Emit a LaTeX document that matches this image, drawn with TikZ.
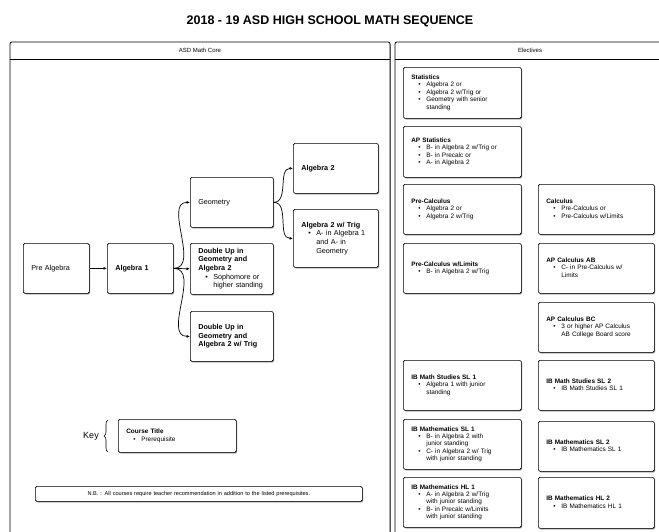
\documentclass[tikz,border=0pt]{standalone}
\usepackage{fontspec}
\setmainfont{Liberation Sans}
\usetikzlibrary{arrows.meta,shadows,decorations.pathreplacing}
\newcommand\ttl[1]{\multicolumn{2}{@{}l@{}}{\textbf{#1}}\\}
\newcommand\bi[1]{\hspace*{7pt}\textbullet & #1\\}
\newcommand\ci[1]{ & #1\\}
\newenvironment{blist}{\begin{tabular}{@{}p{15pt}@{}l@{}}}{\end{tabular}}
\tikzset{
  shad/.style={drop shadow={shadow xshift=0.8pt,shadow yshift=-0.9pt,fill=black!55,opacity=1}},
  panel/.style={draw, line width=0.8pt, rounded corners=2pt, fill=white, shad},
  cbox/.style={draw, line width=0.7pt, rounded corners=1.5pt, fill=white, shad,
    anchor=north west, align=left, inner ysep=2pt},
  lbox/.style={cbox, inner xsep=8pt, font=\fontsize{7.2}{8.7}\selectfont},
  rbox/.style={cbox, inner xsep=8pt, font=\fontsize{6.4}{7.4}\selectfont},
  arr/.style={line width=0.7pt, -{Latex[length=3.5pt,width=3pt]}},
  hdr/.style={font=\fontsize{6}{7}\selectfont}
}
\begin{document}
\begin{tikzpicture}[x=1pt,y=-1pt]
\useasboundingbox[fill=white] (0,0) rectangle (659,531);
% title
\node[font=\bfseries\fontsize{12.5}{14}\selectfont] (title) at (330,21) {2018 - 19 ASD HIGH SCHOOL MATH SEQUENCE};
% panels
\path[panel] (10,545) -- (10,42) -- (390,42) -- (390,545);
\draw[line width=0.8pt] (10,59) -- (390,59);
\node[hdr] (hcore) at (200,50.5) {ASD Math Core};
\path[panel] (395,545) -- (395,42) -- (670,42) -- (670,545);
\draw[line width=0.8pt] (395,59) -- (670,59);
\node[hdr] (helec) at (530,50.5) {Electives};
% left panel boxes
\node[lbox, text width=50pt, minimum height=50pt] (pre) at (23,243) {Pre Algebra};
\node[lbox, text width=50pt, minimum height=50pt] (alg1) at (107,243) {\textbf{Algebra 1}};
\node[lbox, text width=67pt, minimum height=50pt] (geo) at (190,177) {Geometry};
\node[lbox, text width=67pt, minimum height=51pt] (dbl) at (190,243) {\begin{blist}\ttl{Double Up in}\ttl{Geometry and}\ttl{Algebra 2}\bi{Sophomore or}\ci{higher standing}\end{blist}};
\node[lbox, text width=67pt, minimum height=50pt] (dblt) at (190,311) {\textbf{Double Up in}\par\textbf{Geometry and}\par\textbf{Algebra 2 w/ Trig}};
\node[lbox, text width=69pt, minimum height=50pt] (alg2) at (293,143) {\textbf{Algebra 2}};
\node[lbox, text width=69pt, minimum height=58pt] (alg2t) at (293,209) {\begin{blist}\ttl{Algebra 2 w/ Trig}\bi{A- in Algebra 1}\ci{and A- in}\ci{Geometry}\end{blist}};
% connectors
\draw[arr] (pre.east) -- (alg1.west);
\draw[arr] (alg1.east) to[out=0,in=180] (geo.west);
\draw[arr] (alg1.east) -- (dbl.west);
\draw[arr] (alg1.east) to[out=0,in=180] (dblt.west);
\draw[arr] (geo.east) to[out=0,in=180] (alg2.west);
\draw[arr] (geo.east) to[out=0,in=180] (alg2t.west);
% key
\node[font=\fontsize{9}{10}\selectfont] (keylbl) at (91,436) {Key};
\coordinate (kb1) at (108,452);
\coordinate (kb2) at (108,420);
\draw[line width=0.6pt, decorate, decoration={brace, amplitude=4pt}] (kb1) -- (kb2);
\node[rbox, text width=102pt, minimum height=33pt] (key) at (118,419) {\begin{blist}\ttl{Course Title}\bi{Prerequisite}\end{blist}};
\node[cbox, anchor=north west, align=center, text width=315pt, minimum height=15pt, inner xsep=6pt, font=\fontsize{5.6}{6.5}\selectfont] (nb) at (35,486) {N.B. : All courses require teacher recommendation in addition to the listed prerequisites.};
% right panel boxes, column 1
\node[rbox, text width=102pt, minimum height=51pt] (stat) at (403,67) {\begin{blist}\ttl{Statistics}\bi{Algebra 2 or}\bi{Algebra 2 w/Trig or}\bi{Geometry with senior}\ci{standing}\end{blist}};
\node[rbox, text width=102pt, minimum height=51pt] (apstat) at (403,126) {\begin{blist}\ttl{AP Statistics}\bi{B- in Algebra 2 w/Trig or}\bi{B- in Precalc or}\bi{A- in Algebra 2}\end{blist}};
\node[rbox, text width=102pt, minimum height=50pt] (precalc) at (403,184) {\begin{blist}\ttl{Pre-Calculus}\bi{Algebra 2 or}\bi{Algebra 2 w/Trig}\end{blist}};
\node[rbox, text width=102pt, minimum height=50pt] (precalcl) at (403,243) {\begin{blist}\ttl{Pre-Calculus w/Limits}\bi{B- in Algebra 2 w/Trig}\end{blist}};
\node[rbox, text width=102pt, minimum height=50pt] (ibms1) at (403,360) {\begin{blist}\ttl{IB Math Studies SL 1}\bi{Algebra 1 with junior}\ci{standing}\end{blist}};
\node[rbox, text width=102pt, minimum height=50pt] (ibm1) at (403,419) {\begin{blist}\ttl{IB Mathematics SL 1}\bi{B- in Algebra 2 with}\ci{junior standing}\bi{C- in Algebra 2 w/ Trig}\ci{with junior standing}\end{blist}};
\node[rbox, text width=102pt, minimum height=50pt] (ibh1) at (403,477) {\begin{blist}\ttl{IB Mathematics HL 1}\bi{A- in Algebra 2 w/Trig}\ci{with junior standing}\bi{B- in Precalc w/Limits}\ci{with junior standing}\end{blist}};
% right panel boxes, column 2
\node[rbox, text width=100pt, minimum height=50pt] (calc) at (538,184) {\begin{blist}\ttl{Calculus}\bi{Pre-Calculus or}\bi{Pre-Calculus w/Limits}\end{blist}};
\node[rbox, text width=100pt, minimum height=50pt] (apab) at (538,243) {\begin{blist}\ttl{AP Calculus AB}\bi{C- in Pre-Calculus w/}\ci{Limits}\end{blist}};
\node[rbox, text width=100pt, minimum height=50pt] (apbc) at (538,302) {\begin{blist}\ttl{AP Calculus BC}\bi{3 or higher AP Calculus}\ci{AB College Board score}\end{blist}};
\node[rbox, text width=100pt, minimum height=50pt] (ibms2) at (538,360) {\begin{blist}\ttl{IB Math Studies SL 2}\bi{IB Math Studies SL 1}\end{blist}};
\node[rbox, text width=100pt, minimum height=50pt] (ibm2) at (538,421) {\begin{blist}\ttl{IB Mathematics SL 2}\bi{IB Mathematics SL 1}\end{blist}};
\node[rbox, text width=100pt, minimum height=51pt] (ibh2) at (538,477) {\begin{blist}\ttl{IB Mathematics HL 2}\bi{IB Mathematics HL 1}\end{blist}};
\end{tikzpicture}
\end{document}
